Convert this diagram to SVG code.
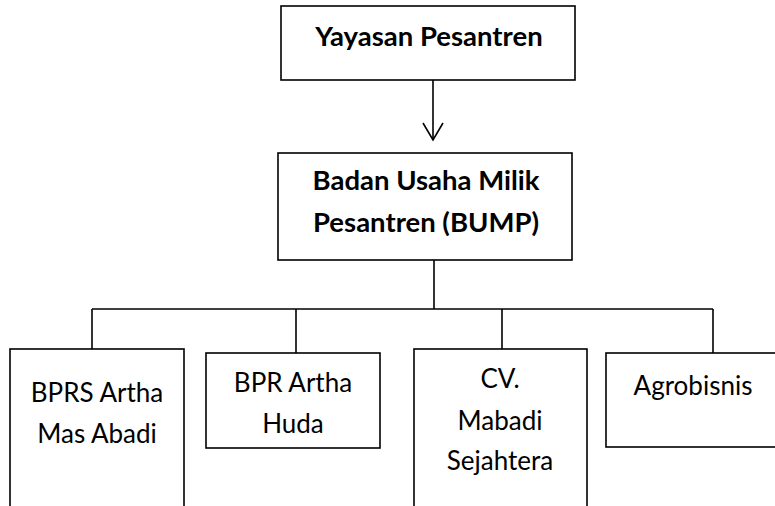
<svg xmlns="http://www.w3.org/2000/svg" width="775" height="506" viewBox="0 0 775 506">
<defs>
<style>
.box{fill:#fff;stroke:#000;stroke-width:1.6}
.ln{fill:none;stroke:#000;stroke-width:1.6}
.t{font-family:Lato,"Liberation Sans",sans-serif;font-size:26px;fill:#000;text-anchor:middle}
.b{font-weight:bold;font-size:27.5px}
</style>
</defs>
<rect width="775" height="506" fill="#fff"/>
<g id="connectors">
<line class="ln" x1="433" y1="80" x2="433" y2="140"/>
<polyline class="ln" points="423,123 433,140 443,123"/>
<line class="ln" x1="434" y1="260" x2="434" y2="309"/>
<line class="ln" x1="92" y1="309" x2="713" y2="309"/>
<line class="ln" x1="92" y1="309" x2="92" y2="349"/>
<line class="ln" x1="296" y1="309" x2="296" y2="353"/>
<line class="ln" x1="502" y1="309" x2="502" y2="349"/>
<line class="ln" x1="713" y1="309" x2="713" y2="353"/>
</g>
<g id="yayasan">
<rect class="box" x="281" y="6" width="294" height="74"/>
<text class="t b" x="429" y="46">Yayasan Pesantren</text>
</g>
<g id="bump">
<rect class="box" x="278" y="153" width="294" height="107"/>
<text class="t b" x="426" y="190">Badan Usaha Milik</text>
<text class="t b" x="426" y="232">Pesantren (BUMP)</text>
</g>
<g id="bprs">
<rect class="box" x="10" y="349" width="174" height="170"/>
<text class="t" x="97" y="402">BPRS Artha</text>
<text class="t" x="97" y="443">Mas Abadi</text>
</g>
<g id="bpr">
<rect class="box" x="206" y="353" width="174" height="95"/>
<text class="t" x="293" y="392">BPR Artha</text>
<text class="t" x="293" y="433">Huda</text>
</g>
<g id="cv">
<rect class="box" x="414" y="349" width="173" height="170"/>
<text class="t" x="500" y="388">CV.</text>
<text class="t" x="500" y="430">Mabadi</text>
<text class="t" x="500" y="470">Sejahtera</text>
</g>
<g id="agro">
<rect class="box" x="606" y="353" width="180" height="94"/>
<text class="t" x="693" y="395">Agrobisnis</text>
</g>
</svg>
